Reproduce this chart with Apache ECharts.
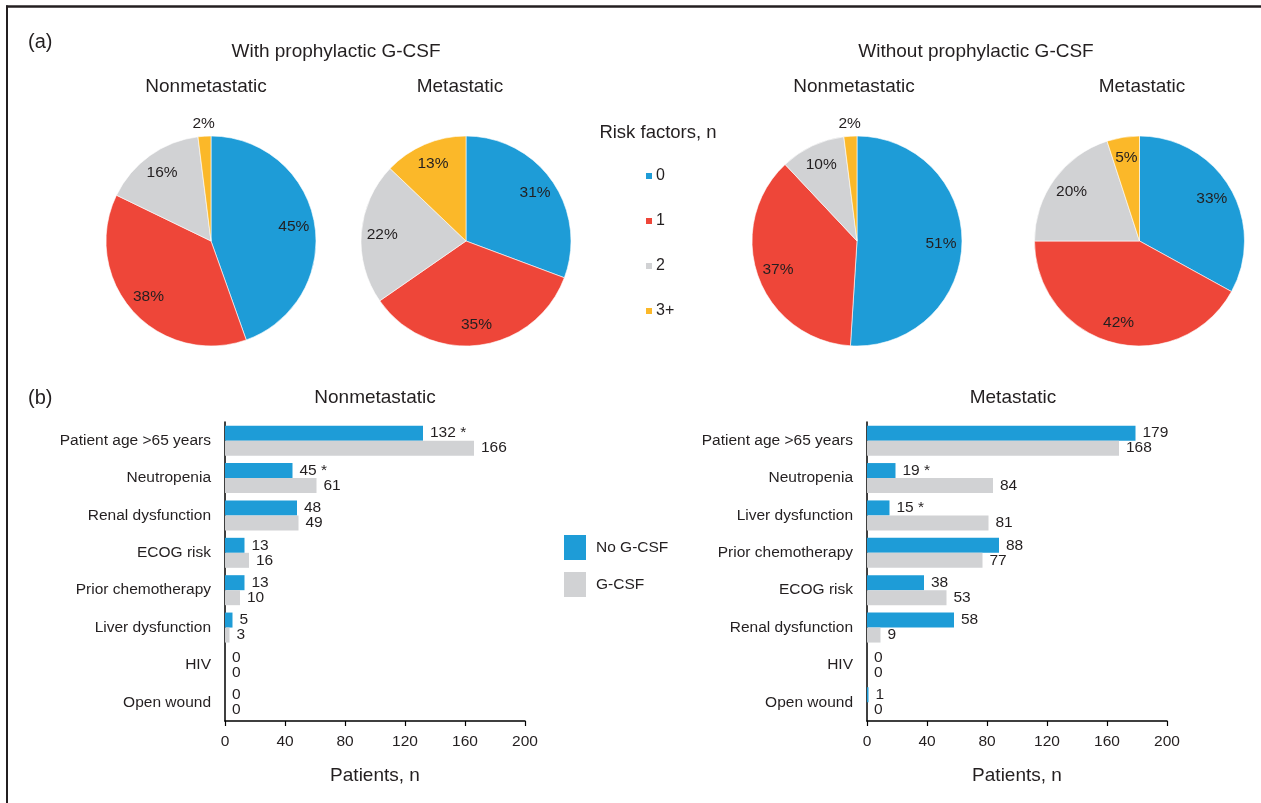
<!DOCTYPE html>
<html>
<head>
<meta charset="utf-8">
<style>
  html, body { margin: 0; padding: 0; background: #fff; }
  #chart { width: 1261px; height: 803px; }
</style>
<script src="https://cdn.jsdelivr.net/npm/echarts@6/dist/echarts.min.js"></script>
</head>
<body>
<div id="chart"></div>
<script>
// ---- Panel (a): share of patients by number of risk factors ----
const riskLevels = ['0', '1', '2', '3+'];
const pieWithNonmet = [45, 38, 16, 2];
const pieWithMet = [31, 35, 22, 13];
const pieWithoutNonmet = [51, 37, 10, 2];
const pieWithoutMet = [33, 42, 20, 5];

// ---- Panel (b): patients with each risk factor ----
const nmCategories = ['Patient age >65 years', 'Neutropenia', 'Renal dysfunction', 'ECOG risk',
  'Prior chemotherapy', 'Liver dysfunction', 'HIV', 'Open wound'];
const nmNoGcsf = [132, 45, 48, 13, 13, 5, 0, 0];
const nmGcsf = [166, 61, 49, 16, 10, 3, 0, 0];
const nmSignificant = ['*', '*', '', '', '', '', '', ''];

const mCategories = ['Patient age >65 years', 'Neutropenia', 'Liver dysfunction', 'Prior chemotherapy',
  'ECOG risk', 'Renal dysfunction', 'HIV', 'Open wound'];
const mNoGcsf = [179, 19, 15, 88, 38, 58, 0, 1];
const mGcsf = [168, 84, 81, 77, 53, 9, 0, 0];
const mSignificant = ['', '*', '*', '', '', '', '', ''];

const xTicks = { min: 0, max: 200, interval: 40 };

const riskColors = ['#1E9CD7', '#EE4639', '#D1D2D4', '#FBB829'];
const BLUE = '#1E9CD7';
const GREY = '#D1D2D4';
const INK = '#231F20';
const FONT = '"Liberation Sans", Arial, Helvetica, sans-serif';
const TEXT_SIZE = 15.5;
const HEAD_SIZE = 19;

const PIE_R = 105;
const PIE_Y = 241;
const pies = [
  { values: pieWithNonmet, cx: 211 },
  { values: pieWithMet, cx: 466 },
  { values: pieWithoutNonmet, cx: 857 },
  { values: pieWithoutMet, cx: 1139.5 }
];

const series = [];

// colored slices
pies.forEach(p => {
  series.push({
    type: 'pie',
    center: [p.cx, PIE_Y],
    radius: PIE_R,
    startAngle: 90,
    clockwise: true,
    silent: true,
    label: { show: false },
    labelLine: { show: false },
    itemStyle: { borderColor: '#fff', borderWidth: 0.6 },
    data: riskLevels.map((name, i) => ({
      name, value: p.values[i], itemStyle: { color: riskColors[i] }
    }))
  });
});

// percentage labels: a transparent ring carries the labels of the larger slices,
// and an outer ring carries the labels of the slivers
pies.forEach(p => {
  const labelRing = (radius, showIt) => ({
    type: 'pie',
    center: [p.cx, PIE_Y],
    radius,
    startAngle: 90,
    clockwise: true,
    silent: true,
    avoidLabelOverlap: false,
    labelLine: { show: false },
    itemStyle: { color: 'rgba(0,0,0,0)', borderWidth: 0 },
    data: riskLevels.map((name, i) => ({
      name, value: p.values[i],
      label: {
        show: showIt(p.values[i]),
        position: 'inside',
        formatter: '{c}%',
        fontFamily: FONT,
        fontSize: TEXT_SIZE,
        color: INK
      }
    }))
  });
  series.push(labelRing([57, PIE_R], v => v > 2));
  series.push(labelRing([PIE_R, PIE_R + 20], v => v <= 2));
});

// horizontal grouped bars
function barLabel(marks) {
  return {
    show: true,
    position: 'right',
    distance: 7,
    fontFamily: FONT,
    fontSize: TEXT_SIZE,
    color: INK,
    formatter: p => marks && marks[p.dataIndex] ? p.value + ' ' + marks[p.dataIndex] : String(p.value)
  };
}
function addBars(gridIndex, noG, g, marks) {
  series.push({
    name: 'No G-CSF', type: 'bar', xAxisIndex: gridIndex, yAxisIndex: gridIndex,
    data: noG, barWidth: 15, barGap: '0%', itemStyle: { color: BLUE },
    label: barLabel(marks), silent: true
  });
  series.push({
    name: 'G-CSF', type: 'bar', xAxisIndex: gridIndex, yAxisIndex: gridIndex,
    data: g, barWidth: 15, barGap: '0%', itemStyle: { color: GREY },
    label: barLabel(null), silent: true
  });
}
addBars(0, nmNoGcsf, nmGcsf, nmSignificant);
addBars(1, mNoGcsf, mGcsf, mSignificant);

const axisBlack = { show: true, lineStyle: { color: '#000', width: 1.5 } };
function xAxisFor(gridIndex) {
  return {
    type: 'value', gridIndex, min: xTicks.min, max: xTicks.max, interval: xTicks.interval,
    axisLine: axisBlack,
    axisTick: { show: true, length: 5, lineStyle: { color: '#000', width: 1.2 } },
    splitLine: { show: false },
    axisLabel: { fontFamily: FONT, fontSize: TEXT_SIZE, color: INK, margin: 13 },
    name: 'Patients, n', nameLocation: 'middle', nameGap: 45,
    nameTextStyle: { fontFamily: FONT, fontSize: HEAD_SIZE, color: INK }
  };
}
function yAxisFor(gridIndex, cats) {
  return {
    type: 'category', gridIndex, data: cats, inverse: true,
    axisLine: axisBlack,
    axisTick: { show: false },
    axisLabel: { fontFamily: FONT, fontSize: TEXT_SIZE, color: INK, margin: 14 }
  };
}

function txt(x, y, text, size, align) {
  return {
    type: 'text', x, y, silent: true,
    style: { text, font: size + 'px ' + FONT, fill: INK, align: align || 'center', verticalAlign: 'middle' }
  };
}

const option = {
  backgroundColor: '#fff',
  animation: false,
  grid: [
    { left: 225, top: 422, width: 300, height: 299 },
    { left: 867, top: 422, width: 300, height: 299 }
  ],
  xAxis: [xAxisFor(0), xAxisFor(1)],
  yAxis: [yAxisFor(0, nmCategories), yAxisFor(1, mCategories)],
  legend: [
    {
      orient: 'vertical', left: 644, top: 168, padding: 0,
      itemWidth: 8, itemHeight: 8, itemGap: 29, icon: 'rect',
      selectedMode: false,
      textStyle: { fontFamily: FONT, fontSize: 16, color: INK, padding: [0, 0, 0, -2] },
      data: riskLevels.map((name, i) => ({ name, itemStyle: { color: riskColors[i] } }))
    },
    {
      orient: 'vertical', left: 564, top: 535, padding: 0,
      itemWidth: 22, itemHeight: 25, itemGap: 12, icon: 'rect',
      selectedMode: false,
      textStyle: { fontFamily: FONT, fontSize: TEXT_SIZE, color: INK, padding: [0, 0, 0, 5] },
      data: [
        { name: 'No G-CSF', itemStyle: { color: BLUE } },
        { name: 'G-CSF', itemStyle: { color: GREY } }
      ]
    }
  ],
  series,
  graphic: [
    // figure frame
    { type: 'line', silent: true, shape: { x1: 6, y1: 6.5, x2: 1261, y2: 6.5 }, style: { stroke: '#231F20', lineWidth: 2.5 } },
    { type: 'line', silent: true, shape: { x1: 7, y1: 5.5, x2: 7, y2: 803 }, style: { stroke: '#231F20', lineWidth: 2 } },
    txt(28, 42, '(a)', 20, 'left'),
    txt(336, 52, 'With prophylactic G-CSF', HEAD_SIZE),
    txt(976, 52, 'Without prophylactic G-CSF', HEAD_SIZE),
    txt(206, 87, 'Nonmetastatic', HEAD_SIZE),
    txt(460, 87, 'Metastatic', HEAD_SIZE),
    txt(854, 87, 'Nonmetastatic', HEAD_SIZE),
    txt(1142, 87, 'Metastatic', HEAD_SIZE),
    txt(658, 133, 'Risk factors, n', 18.5),
    txt(28, 398, '(b)', 20, 'left'),
    txt(375, 398, 'Nonmetastatic', HEAD_SIZE),
    txt(1013, 398, 'Metastatic', HEAD_SIZE)
  ]
};

const chart = echarts.init(document.getElementById('chart'), null, { renderer: 'canvas' });
chart.setOption(option);
</script>
</body>
</html>
